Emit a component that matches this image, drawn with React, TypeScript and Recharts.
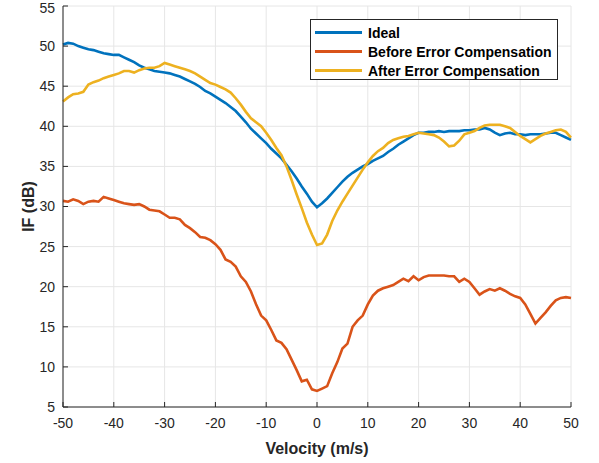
import React from 'react';
import { LineChart, Line, XAxis, YAxis, CartesianGrid, Legend } from 'recharts';

const velocity = [
  -50, -49, -48, -47, -46, -45, -44, -43, -42, -41, -40, -39, -38, -37, -36, -35, -34, -33, -32, -31,
  -30, -29, -28, -27, -26, -25, -24, -23, -22, -21, -20, -19, -18, -17, -16, -15, -14, -13, -12, -11,
  -10, -9, -8, -7, -6, -5, -4, -3, -2, -1, 0, 1, 2, 3, 4, 5, 6, 7, 8, 9,
  10, 11, 12, 13, 14, 15, 16, 17, 18, 19, 20, 21, 22, 23, 24, 25, 26, 27, 28, 29,
  30, 31, 32, 33, 34, 35, 36, 37, 38, 39, 40, 41, 42, 43, 44, 45, 46, 47, 48, 49, 50,
];

const ideal = [
  50.2, 50.4, 50.3, 50.0, 49.8, 49.6, 49.5, 49.3, 49.1, 49.0, 48.9, 48.9, 48.6, 48.3, 48.0, 47.6, 47.3, 47.1, 46.9, 46.8,
  46.7, 46.6, 46.4, 46.2, 45.9, 45.6, 45.3, 44.9, 44.4, 44.1, 43.7, 43.3, 42.9, 42.4, 41.9, 41.2, 40.5, 39.7, 39.1, 38.5,
  37.9, 37.2, 36.6, 36.0, 35.2, 34.4, 33.5, 32.5, 31.6, 30.6, 29.9, 30.4, 31.0, 31.7, 32.4, 33.1, 33.7, 34.2, 34.6, 35.0,
  35.3, 35.7, 36.0, 36.3, 36.8, 37.2, 37.7, 38.1, 38.5, 38.9, 39.2, 39.2, 39.3, 39.3, 39.4, 39.3, 39.4, 39.4, 39.4, 39.5,
  39.5, 39.6, 39.6, 39.8, 39.6, 39.2, 38.9, 39.1, 39.2, 39.0, 39.0, 38.9, 39.0, 39.0, 39.0, 39.1, 39.2, 39.2, 38.9, 38.6, 38.3,
];

const before = [
  30.7, 30.6, 30.9, 30.7, 30.3, 30.6, 30.7, 30.6, 31.2, 31.0, 30.8, 30.6, 30.4, 30.3, 30.2, 30.3, 30.0, 29.6, 29.5, 29.4,
  29.0, 28.6, 28.6, 28.4, 27.7, 27.3, 26.8, 26.2, 26.1, 25.8, 25.3, 24.6, 23.4, 23.1, 22.5, 21.3, 20.6, 19.4, 17.8, 16.4,
  15.8, 14.6, 13.3, 13.0, 12.2, 10.9, 9.6, 8.2, 8.4, 7.2, 7.0, 7.3, 7.6, 9.2, 10.6, 12.3, 12.9, 15.0, 15.8, 16.4,
  17.8, 18.9, 19.5, 19.8, 20.0, 20.2, 20.6, 21.0, 20.7, 21.3, 20.8, 21.2, 21.4, 21.4, 21.4, 21.4, 21.3, 21.3, 20.6, 21.0,
  20.6, 19.8, 19.0, 19.4, 19.7, 19.5, 19.8, 19.5, 19.1, 18.8, 18.6, 17.8, 16.6, 15.4, 16.1, 16.8, 17.6, 18.3, 18.6, 18.7, 18.6,
];

const after = [
  43.1, 43.6, 44.0, 44.1, 44.3, 45.2, 45.5, 45.7, 46.0, 46.2, 46.4, 46.6, 46.9, 46.9, 46.7, 47.0, 47.2, 47.3, 47.3, 47.5,
  47.9, 47.7, 47.5, 47.3, 47.1, 46.9, 46.6, 46.2, 45.8, 45.4, 45.2, 44.9, 44.6, 44.2, 43.5, 42.7, 41.8, 41.0, 40.5, 40.0,
  39.2, 38.3, 37.3, 36.4, 35.0, 33.3, 31.5, 29.8, 28.0, 26.5, 25.2, 25.4, 26.5, 28.2, 29.5, 30.6, 31.6, 32.6, 33.6, 34.6,
  35.5, 36.3, 36.9, 37.3, 37.9, 38.3, 38.5, 38.7, 38.8, 39.0, 39.2, 39.1, 39.0, 38.9, 38.6, 38.1, 37.5, 37.6, 38.2, 39.0,
  39.2, 39.4, 39.8, 40.1, 40.2, 40.2, 40.2, 40.0, 39.8, 39.3, 38.8, 38.4, 38.0, 38.4, 38.8, 39.1, 39.3, 39.5, 39.6, 39.3, 38.6,
];

const xTicks = [-50, -40, -30, -20, -10, 0, 10, 20, 30, 40, 50];
const yTicks = [5, 10, 15, 20, 25, 30, 35, 40, 45, 50, 55];

const seriesNames = ['Ideal', 'Before Error Compensation', 'After Error Compensation'];
const seriesColors = ['#0072BD', '#D95319', '#EDB120'];

const data = velocity.map((v, i) => ({
  v,
  ideal: ideal[i],
  before: before[i],
  after: after[i],
}));

const axisColor = '#262626';
const font = 'Arial, "Liberation Sans", Helvetica, sans-serif';

function LegendBox() {
  return (
    <div
      style={{
        border: `1px solid ${axisColor}`,
        background: '#fff',
        width: 248,
        height: 61,
        boxSizing: 'border-box',
        padding: '3px 0 0 4px',
        fontFamily: font,
        fontWeight: 'bold',
        fontSize: 14,
        color: '#000',
        textAlign: 'left',
      }}
    >
      {seriesNames.map((name, i) => (
        <div key={name} style={{ display: 'flex', alignItems: 'center', height: 19 }}>
          <span style={{ display: 'inline-block', width: 47, height: 3, background: seriesColors[i], marginRight: 6 }} />
          <span>{name}</span>
        </div>
      ))}
    </div>
  );
}

export default function App() {
  return (
    <div style={{ position: 'absolute', left: 0, top: 0, width: 599, height: 463, background: '#fff' }}>
      <LineChart width={599} height={463} data={data} margin={{ top: 6, right: 28, bottom: 0, left: 0 }}>
        <CartesianGrid stroke="#e6e6e6" strokeWidth={1} />
        <XAxis
          dataKey="v"
          type="number"
          domain={[-50, 50]}
          ticks={xTicks}
          height={56}
          stroke={axisColor}
          tickSize={-5}
          tickMargin={16}
          tick={{ fill: axisColor, fontSize: 14, fontFamily: font }}
          label={{ value: 'Velocity (m/s)', position: 'insideBottom', offset: 9, fill: axisColor, fontSize: 16, fontWeight: 'bold', fontFamily: font }}
        />
        <XAxis
          xAxisId="top"
          orientation="top"
          dataKey="v"
          type="number"
          domain={[-50, 50]}
          ticks={xTicks}
          height={0}
          stroke={axisColor}
          tickSize={-5}
          tickFormatter={() => ''}
        />
        <YAxis
          type="number"
          domain={[5, 55]}
          ticks={yTicks}
          width={63}
          stroke={axisColor}
          tickSize={-5}
          tickMargin={13}
          tick={{ fill: axisColor, fontSize: 14, fontFamily: font }}
          label={{ value: 'IF (dB)', angle: -90, position: 'insideLeft', offset: 28, fill: axisColor, fontSize: 16, fontWeight: 'bold', fontFamily: font, style: { textAnchor: 'middle' } }}
        />
        <YAxis
          yAxisId="right"
          orientation="right"
          type="number"
          domain={[5, 55]}
          ticks={yTicks}
          width={0}
          stroke={axisColor}
          tickSize={-5}
          tickFormatter={() => ''}
        />
        <Legend
          content={<LegendBox />}
          layout="horizontal"
          verticalAlign="middle"
          align="center"
          wrapperStyle={{ position: 'absolute', left: 310, top: 19, width: 'auto', height: 'auto' }}
        />
        <Line dataKey="ideal" name={seriesNames[0]} stroke={seriesColors[0]} strokeWidth={2.6} dot={false} isAnimationActive={false} />
        <Line dataKey="before" name={seriesNames[1]} stroke={seriesColors[1]} strokeWidth={2.6} dot={false} isAnimationActive={false} />
        <Line dataKey="after" name={seriesNames[2]} stroke={seriesColors[2]} strokeWidth={2.6} dot={false} isAnimationActive={false} />
      </LineChart>
    </div>
  );
}
